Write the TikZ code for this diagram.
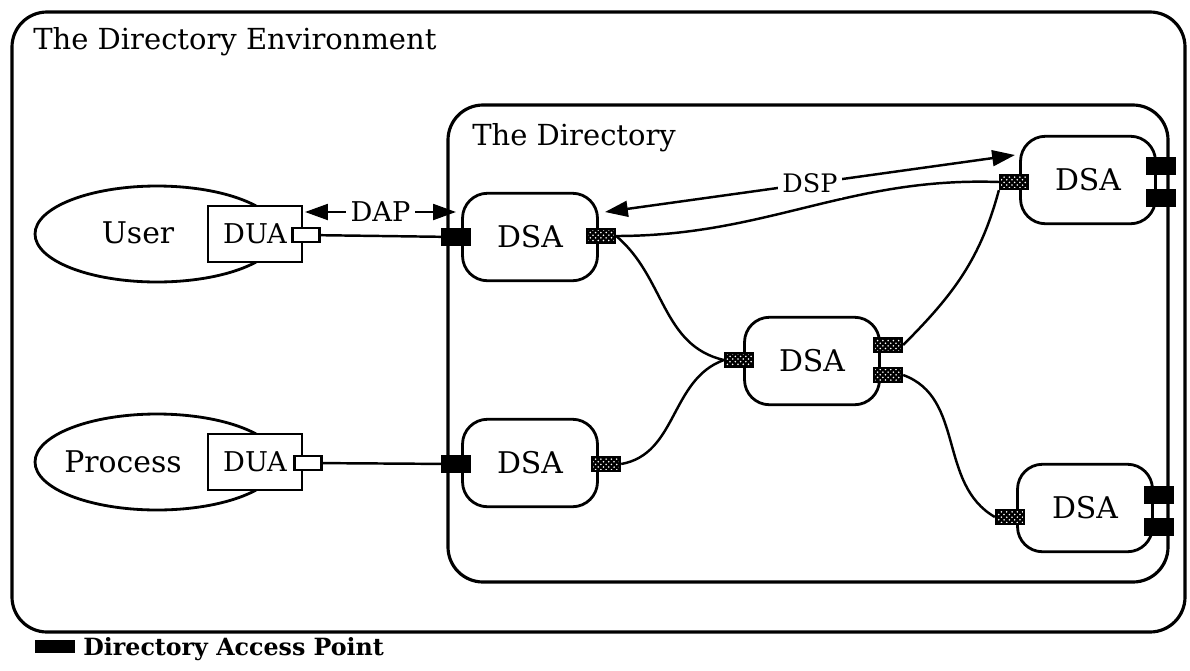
\documentclass[tikz,border=0pt]{standalone}
\usepackage{fontspec}
\setmainfont{DejaVu Serif}
\usetikzlibrary{shapes.geometric,arrows.meta,patterns,positioning}

\tikzset{
  frame/.style={line width=1.8pt, rounded corners=0.7cm},
  dsa/.style={draw, line width=1.6pt, fill=white, rounded corners=0.5cm,
    minimum width=2.7cm, minimum height=1.75cm, font=\fontsize{17}{20}\selectfont},
  actor/.style={draw, ellipse, line width=1.6pt, minimum width=4.88cm,
    minimum height=1.92cm, inner sep=0pt},
  dua/.style={draw, line width=1.6pt, fill=white, minimum width=1.88cm,
    minimum height=1.12cm, inner sep=0pt, font=\fontsize{15.5}{18}\selectfont},
  wport/.style={draw, line width=1.3pt, fill=white, minimum width=0.54cm,
    minimum height=0.28cm, inner sep=0pt},
  bport/.style={draw, line width=1.3pt, fill=black, minimum width=0.56cm,
    minimum height=0.32cm, inner sep=0pt},
  hport/.style={draw, line width=1.3pt, preaction={fill=black},
    pattern=crosshatch dots, pattern color=white, minimum width=0.56cm,
    minimum height=0.28cm, inner sep=0pt},
  link/.style={line width=1.4pt},
  proto/.style={line width=1.4pt, {Triangle[length=13pt,width=9pt]}-{Triangle[length=13pt,width=9pt]}},
  plabel/.style={fill=white, inner sep=2.5pt}
}

\begin{document}
\begin{tikzpicture}[x=0.02cm, y=-0.02cm]
  \useasboundingbox (0,0) rectangle (1190,670);

  % frames
  \draw[frame] (12,12) rectangle (1185,632);
  \node[anchor=base west, inner sep=0pt, font=\fontsize{16.5}{19}\selectfont]
    (envtitle) at (33,49) {The Directory Environment};
  \draw[frame] (448,105) rectangle (1168,582);
  \node[anchor=base west, inner sep=0pt, font=\fontsize{16.5}{19}\selectfont]
    (dirtitle) at (472,145) {The Directory};

  % users of the directory
  \node[actor] (user) at (157,234) {};
  \node[font=\fontsize{17}{20}\selectfont] (usertext) at (138,233) {User};
  \node[dua] (duaU) at (255,234) {DUA};
  \node[wport] (portU) at (306,235) {};
  \node[actor] (proc) at (157,462) {};
  \node[font=\fontsize{17}{20}\selectfont] (proctext) at (123,462) {Process};
  \node[dua] (duaP) at (255,462) {DUA};
  \node[wport] (portP) at (308,463) {};

  % system agents
  \node[dsa] (dsaA) at (530,237) {DSA};
  \node[dsa] (dsaB) at (530,463) {DSA};
  \node[dsa] (dsaC) at (812,361) {DSA};
  \node[dsa] (dsaD) at (1088,180) {DSA};
  \node[dsa] (dsaE) at (1085,508) {DSA};

  % access points
  \node[bport] (apU) at (456,237) {};
  \node[bport] (apP) at (456,464) {};
  \node[bport] (apD1) at (1161,166) {};
  \node[bport] (apD2) at (1161,198) {};
  \node[bport] (apE1) at (1159,495) {};
  \node[bport] (apE2) at (1159,527) {};

  % system ports
  \node[hport] (aR) at (601,236) {};
  \node[hport] (bR) at (606,464) {};
  \node[hport] (cL) at (739,360) {};
  \node[hport] (cRt) at (888,345) {};
  \node[hport] (cRb) at (888,375) {};
  \node[hport] (dL) at (1014,182) {};
  \node[hport] (eL) at (1010,517) {};

  \begin{scope}[link]
    \draw (portU) to (apU);
    \draw (portP) to (apP);
    \draw (aR.east) to[out=-40, in=167] (cL.west);
    \draw (bR.east) to[out=10, in=200] (cL.west);
    \draw (cRt.east) to[out=45, in=-105] (dL.south west);
    \draw (cRb.east) to[out=-20, in=150] (eL.west);
    \draw (aR.east) to[out=0, in=178] (dL.west);
  \end{scope}

  % protocol arrows
  \coordinate (dapL) at (305,212);
  \coordinate (dapR) at (456,212);
  \draw[proto] (dapL) -- node[plabel, font=\fontsize{15.5}{18}\selectfont] (daptext) {DAP} (dapR);
  \coordinate (dspL) at (605,212);
  \coordinate (dspR) at (1015,155);
  \draw[proto] (dspL) -- node[plabel, font=\fontsize{14.5}{17}\selectfont] (dsptext) {DSP} (dspR);

  % legend
  \node[fill=black, minimum width=0.8cm, minimum height=0.26cm, inner sep=0pt] (keybox) at (55,646) {};
  \node[anchor=base west, inner sep=0pt, font=\bfseries\fontsize{13.5}{16}\selectfont]
    (keytext) at (83,655) {Directory Access Point};
\end{tikzpicture}
\end{document}
